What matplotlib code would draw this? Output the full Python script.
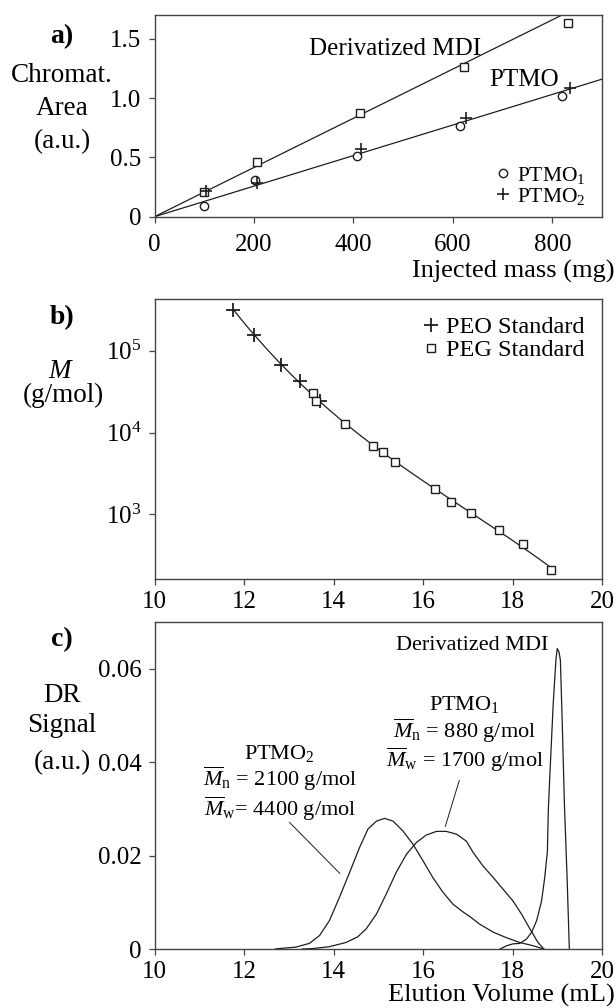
import numpy as np
import matplotlib
matplotlib.use('Agg')
import matplotlib.pyplot as plt
from matplotlib.ticker import FixedLocator, FixedFormatter, NullLocator

plt.rcParams.update({
    'font.family': ['Liberation Serif', 'DejaVu Serif'],
    'mathtext.fontset': 'custom',
    'mathtext.rm': 'Liberation Serif',
    'mathtext.it': 'Liberation Serif:italic',
    'mathtext.bf': 'Liberation Serif:bold',
})

# ---------------- data: panel a ----------------
mass_mdi = [99.6, 205.5, 414, 622, 831]
area_mdi = [0.21, 0.46, 0.875, 1.265, 1.63]
mass_ptmo1 = [100, 203, 408, 614, 820]
area_ptmo1 = [0.092, 0.308, 0.512, 0.767, 1.016]
mass_ptmo2 = [103.5, 207, 416, 626, 835]
area_ptmo2 = [0.215, 0.285, 0.574, 0.828, 1.083]
fit_slopes = [0.002074, 0.001288]          # MDI, PTMO (area per mg)
fit_mass_range = [0, 900]

# ---------------- data: panel b ----------------
peo_vol = [11.76, 12.22, 12.83, 13.25, 13.69]
peo_M = [3.15e5, 1.57e5, 6.7e4, 4.3e4, 2.46e4]
peg_vol = [13.55, 13.62, 14.25, 14.89, 15.11, 15.37, 16.26, 16.63, 17.08, 17.69, 18.23, 18.86]
peg_M = [3.03e4, 2.46e4, 1.26e4, 6.8e3, 5.8e3, 4.34e3, 2.03e3, 1.41e3, 1.05e3, 644, 436, 206]

# ---------------- data: panel c ----------------
ptmo2_vol = [12.7, 12.79, 13.16, 13.46, 13.69, 13.91, 14.13, 14.36, 14.58, 14.77, 14.96, 15.14,
             15.33, 15.55, 15.78, 16.0, 16.22, 16.45, 16.67, 16.9, 17.04, 17.27, 17.57, 17.87,
             18.16, 18.46, 18.7]
ptmo2_sig = [0, 0.0001, 0.0004, 0.0012, 0.0029, 0.0061, 0.0110, 0.0164, 0.0217, 0.0257, 0.0274,
             0.0280, 0.0274, 0.0253, 0.0224, 0.0189, 0.0153, 0.0121, 0.0096, 0.0079, 0.0070,
             0.0053, 0.0036, 0.0024, 0.0014, 0.0007, 0]
ptmo1_vol = [13.3, 13.54, 13.91, 14.28, 14.54, 14.73, 14.96, 15.18, 15.4, 15.63, 15.85, 16.07,
             16.3, 16.52, 16.75, 16.97, 17.12, 17.34, 17.57, 17.79, 18.01, 18.2, 18.39, 18.57, 18.7]
ptmo1_sig = [0, 0.0001, 0.0005, 0.0014, 0.0026, 0.0043, 0.0075, 0.0118, 0.0164, 0.0203, 0.0228,
             0.0244, 0.0252, 0.0252, 0.0246, 0.0231, 0.0207, 0.0178, 0.0153, 0.0128, 0.0103,
             0.0075, 0.0043, 0.0014, 0]
mdi_vol = [17.72, 17.87, 18.01, 18.16, 18.31, 18.43, 18.54, 18.65, 18.72, 18.78, 18.80, 18.84,
           18.91, 18.97, 19.0, 19.04, 19.07, 19.11, 19.16, 19.22, 19.27]
mdi_sig = [0, 0.0007, 0.0011, 0.0012, 0.0021, 0.0036, 0.0061, 0.0103, 0.0153, 0.0210, 0.0297,
           0.0383, 0.0526, 0.0619, 0.0644, 0.0636, 0.0619, 0.0490, 0.0310, 0.0153, 0]
leader2_vol = [13.02, 14.14]
leader2_sig = [0.0271, 0.0162]
leader1_vol = [16.81, 16.50]
leader1_sig = [0.0361, 0.0263]

LC = '#1e1e1e'
SPC = '#444444'
TICK_FS = 18
LAB_FS = 19.5

fig = plt.figure(figsize=(6.16, 10.08), dpi=100)
W, H = 616.0, 1008.0


def axes_px(left, top, right, bottom):
    return fig.add_axes([left / W, 1 - bottom / H, (right - left) / W, (bottom - top) / H])


def style(ax):
    for s in ax.spines.values():
        s.set_color(SPC)
        s.set_linewidth(1.0)
    ax.tick_params(direction='out', length=4.5, width=0.9, color=SPC,
                   labelsize=TICK_FS, top=False, right=False, pad=4)
    ax.tick_params(axis='y', pad=5)


# ---------------- panel a ----------------
ax = axes_px(154.5, 15, 602, 216.7)
style(ax)
xx = np.array(fit_mass_range, dtype=float)
for s in fit_slopes:
    ax.plot(xx, s * xx, color=LC, lw=0.9)
ax.plot(mass_mdi, area_mdi, ls='none', marker='s', ms=6, mfc='white', mec=LC, mew=1.0)
h1, = ax.plot(mass_ptmo1, area_ptmo1, ls='none', marker='o', ms=6, mfc='white', mec=LC, mew=1.0,
              label=r'PTMO$_1$')
h2, = ax.plot(mass_ptmo2, area_ptmo2, ls='none', marker='+', ms=8, mec=LC, mew=1.2,
              label=r'PTMO$_2$')
ax.set_xlim(0, 900)
ax.set_ylim(0, 1.7)
ax.xaxis.set_major_locator(FixedLocator([0, 200, 400, 600, 800]))
ax.yaxis.set_major_locator(FixedLocator([0, 0.5, 1.0, 1.5]))
ax.yaxis.set_major_formatter(FixedFormatter(['0', '0.5', '1.0', '1.5']))
ax.tick_params(axis='x', pad=8)
ax.text(483, 1.416, 'Derivatized MDI', ha='center', va='center', fontsize=18)
ax.text(744, 1.15, 'PTMO', ha='center', va='center', fontsize=18)
ax.legend(handles=[h1, h2], loc='lower right', bbox_to_anchor=(1.0, -0.03),
          frameon=False, fontsize=15.5, handlelength=0.6, handletextpad=0.35,
          labelspacing=0.0, borderaxespad=0.35)

# ---------------- panel b ----------------
ax = axes_px(154.5, 299, 602, 579.3)
style(ax)
allv = np.array(peo_vol + peg_vol)
allm = np.log10(np.array(peo_M + peg_M))
coef = np.polyfit(allv, allm, 3)
vv = np.linspace(allv.min(), allv.max(), 200)
ax.plot(vv, 10 ** np.polyval(coef, vv), color=LC, lw=0.9)
ax.plot(peo_vol, peo_M, ls='none', marker='+', ms=9.5, mec=LC, mew=1.3, label='PEO Standard')
ax.plot(peg_vol, peg_M, ls='none', marker='s', ms=5.5, mfc='white', mec=LC, mew=1.0,
        label='PEG Standard')
ax.set_yscale('log')
ax.set_xlim(10, 20)
ax.set_ylim(160, 4.3e5)
ax.yaxis.set_major_locator(FixedLocator([1e3, 1e4, 1e5]))
ax.yaxis.set_minor_locator(NullLocator())
ax.xaxis.set_major_locator(FixedLocator([10, 12, 14, 16, 18, 20]))
ax.legend(loc='upper right', frameon=False, fontsize=17.5, handlelength=0.6,
          handletextpad=0.35, labelspacing=0.05, borderaxespad=0.3)

# ---------------- panel c ----------------
ax = axes_px(154.5, 622.3, 602, 949)
style(ax)
ax.plot(ptmo2_vol, ptmo2_sig, color=LC, lw=0.9)
ax.plot(ptmo1_vol, ptmo1_sig, color=LC, lw=0.9)
ax.plot(mdi_vol, mdi_sig, color=LC, lw=0.9)
ax.plot(leader2_vol, leader2_sig, color=LC, lw=0.7)
ax.plot(leader1_vol, leader1_sig, color=LC, lw=0.7)
ax.set_xlim(10, 20)
ax.set_ylim(0, 0.07)
ax.xaxis.set_major_locator(FixedLocator([10, 12, 14, 16, 18, 20]))
ax.yaxis.set_major_locator(FixedLocator([0, 0.02, 0.04, 0.06]))
ax.yaxis.set_major_formatter(FixedFormatter(['0', '0.02', '0.04', '0.06']))
AFS = 16
ax.text(17.11, 0.065, 'Derivatized MDI', ha='center', va='center', fontsize=AFS)
ax.text(16.93, 0.0460,
        'PTMO$_1$\n' r'$\overline{M}_\mathrm{n}$ = 880 g/mol' '\n' r'$\overline{M}_\mathrm{w}$ = 1700 g/mol',
        ha='center', va='center', fontsize=AFS, linespacing=1.05, multialignment='center')
ax.text(12.80, 0.0356,
        'PTMO$_2$\n' r'$\overline{M}_\mathrm{n}$ = 2100 g/mol' '\n' r'$\overline{M}_\mathrm{w}$= 4400 g/mol',
        ha='center', va='center', fontsize=AFS, linespacing=1.05, multialignment='center')

# ---------------- figure texts ----------------
def ftext(x, y, s, **kw):
    fig.text(x / W, 1 - y / H, s, ha='center', va='center', **kw)

ftext(62, 37, 'a)', fontsize=20, fontweight='bold')
ftext(62, 76, 'Chromat.', fontsize=LAB_FS)
ftext(62.5, 108.5, 'Area', fontsize=LAB_FS)
ftext(62, 142, '(a.u.)', fontsize=LAB_FS)
ftext(62, 318, 'b)', fontsize=20, fontweight='bold')
ftext(61, 372, '$M$', fontsize=LAB_FS)
ftext(63, 395, '(g/mol)', fontsize=LAB_FS)
ftext(62, 640, 'c)', fontsize=20, fontweight='bold')
ftext(62, 696, 'DR', fontsize=LAB_FS)
ftext(62, 726, 'Signal', fontsize=LAB_FS)
ftext(62, 763, '(a.u.)', fontsize=LAB_FS)
fig.text(615 / W, 1 - 271 / H, 'Injected mass (mg)', ha='right', va='center', fontsize=19)
fig.text(615 / W, 1 - 995 / H, 'Elution Volume (mL)', ha='right', va='center', fontsize=19)

fig.savefig('out.png', dpi=100)
